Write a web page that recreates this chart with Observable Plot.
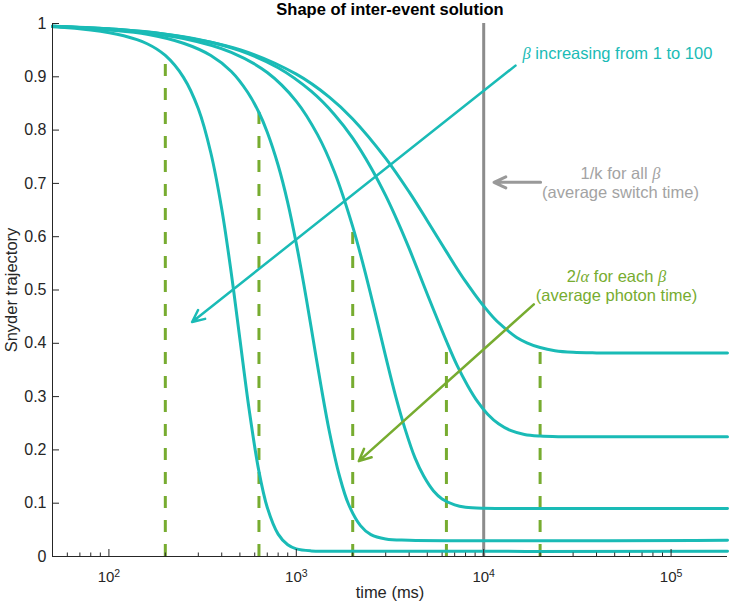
<!DOCTYPE html>
<html>
<head>
<meta charset="utf-8">
<script src="https://cdn.jsdelivr.net/npm/d3@7"></script>
<script src="https://cdn.jsdelivr.net/npm/@observablehq/plot@0.6"></script>
<style>
  html, body { margin: 0; padding: 0; background: #ffffff; }
  svg { display: block; }
</style>
</head>
<body>
<script>
// ---------- data ----------
const betaValues = [100, 31.6, 10, 3.16, 1];

const timeB100 = [50, 80, 120, 160, 200, 250, 300, 350, 400, 450, 500, 560, 630, 700, 800, 900, 1000, 1200, 1500, 200000];
const trajB100 = [0.994, 0.988, 0.977, 0.962, 0.940, 0.899, 0.840, 0.757, 0.652, 0.531, 0.408, 0.276, 0.162, 0.092, 0.042, 0.022, 0.0143, 0.0105, 0.0099, 0.0099];

const timeB31 = [50, 100, 160, 250, 350, 450, 550, 632, 700, 800, 900, 1000, 1100, 1200, 1350, 1500, 1700, 1900, 2200, 2500, 3000, 4000, 200000];
const trajB31 = [0.995, 0.988, 0.980, 0.963, 0.940, 0.910, 0.871, 0.833, 0.796, 0.734, 0.664, 0.587, 0.508, 0.430, 0.323, 0.235, 0.151, 0.098, 0.058, 0.041, 0.033, 0.0307, 0.0306];

const timeB10 = [50, 120, 250, 450, 700, 1000, 1300, 1600, 2000, 2300, 2600, 3000, 3400, 3800, 4300, 4800, 5400, 6000, 7000, 8000, 10000, 13000, 200000];
const trajB10 = [0.995, 0.987, 0.972, 0.946, 0.908, 0.854, 0.791, 0.721, 0.619, 0.541, 0.466, 0.375, 0.299, 0.240, 0.185, 0.150, 0.123, 0.108, 0.097, 0.0925, 0.0904, 0.0901, 0.0901];

const timeB3 = [50, 100, 150, 300, 500, 800, 1200, 1600, 2000, 2500, 3000, 3500, 4000, 4700, 5400, 6325, 7200, 8200, 9300, 10500, 12000, 14000, 16500, 20000, 25000, 35000, 200000];
const trajB3 = [0.995, 0.990, 0.985, 0.970, 0.949, 0.917, 0.873, 0.829, 0.785, 0.730, 0.677, 0.626, 0.578, 0.516, 0.463, 0.404, 0.359, 0.321, 0.290, 0.267, 0.249, 0.236, 0.229, 0.226, 0.2248, 0.2246, 0.2246];

const timeB1 = [50, 100, 200, 500, 1000, 1500, 2000, 3000, 4000, 5000, 6000, 7000, 8000, 9000, 10000, 11500, 13000, 15000, 17000, 20000, 24000, 30000, 40000, 200000];
const trajB1 = [0.995, 0.990, 0.980, 0.951, 0.905, 0.862, 0.821, 0.747, 0.684, 0.630, 0.585, 0.547, 0.516, 0.491, 0.470, 0.445, 0.428, 0.411, 0.401, 0.392, 0.386, 0.383, 0.382, 0.382];

// 2/alpha for each beta (average photon time) and trajectory value there
const photonTime = [200, 632, 2000, 6325, 20000];
const photonTop = [0.940, 0.833, 0.619, 0.404, 0.392];

// 1/k for all beta (average switch time)
const switchTime = [10000];

// axis ticks
const yTicks = [0, 0.1, 0.2, 0.3, 0.4, 0.5, 0.6, 0.7, 0.8, 0.9, 1];
const xMajorTicks = [100, 1000, 10000, 100000];
const xTickExponents = [2, 3, 4, 5];
const xMinorTicks = [60, 70, 80, 90, 200, 300, 400, 500, 600, 700, 800, 900,
  2000, 3000, 4000, 5000, 6000, 7000, 8000, 9000,
  20000, 30000, 40000, 50000, 60000, 70000, 80000, 90000];

// annotations (data coordinates: time in ms, trajectory value)
const betaArrowT = [14780, 278];
const betaArrowP = [0.921, 0.440];
const switchArrowT = [20120, 11350];
const switchArrowP = [0.702, 0.702];
const photonArrowT = [18510, 2156];
const photonArrowP = [0.473, 0.179];

const betaLabel = ["β increasing from 1 to 100"];
const betaLabelT = [16110], betaLabelP = [0.944];
const switchLabel = ["1/k for all β\n(average switch time)"];
const switchLabelT = [53700], switchLabelP = [0.7026];
const photonLabel = ["2/α for each β\n(average photon time)"];
const photonLabelT = [51140], photonLabelP = [0.5084];

// ---------- build tables ----------
const curveTimes = [timeB100, timeB31, timeB10, timeB3, timeB1];
const curveTrajs = [trajB100, trajB31, trajB10, trajB3, trajB1];
const curveRows = [];
betaValues.forEach((b, i) => curveTimes[i].forEach((t, j) => curveRows.push({beta: b, t, p: curveTrajs[i][j]})));
const photonRows = photonTime.map((t, i) => ({t, top: photonTop[i]}));
const arrowRow = (T, P) => [{x1: T[0], y1: P[0], x2: T[1], y2: P[1]}];

const CYAN = "#1ABBB6", GREEN = "#77AC30", GRAY_LINE = "#8C8C8C", GRAY_ARROW = "#999999", GRAY_TEXT = "#A3A3A3", AXIS = "#262626";
const FONT = "'Liberation Sans', Arial, Helvetica, sans-serif";
const PLOT_W = 731 - 52 - 4, PLOT_H = 606 - 23 - 50;

const plot = Plot.plot({
  width: 731, height: 606,
  marginTop: 23, marginRight: 4, marginBottom: 50, marginLeft: 52,
  x: {type: "log", domain: [50, 200000], axis: null},
  y: {domain: [0, 1], axis: null},
  style: {fontFamily: FONT, fontSize: "15px", color: AXIS, background: "white", overflow: "visible"},
  marks: [
    Plot.ruleX(photonRows, {x: "t", y1: () => 0, y2: "top", stroke: GREEN, strokeWidth: 3, strokeDasharray: "12,12"}),
    Plot.ruleX(switchTime, {stroke: GRAY_LINE, strokeWidth: 3}),
    Plot.line(curveRows, {x: "t", y: "p", z: "beta", stroke: CYAN, strokeWidth: 3, curve: "catmull-rom"}),
    // axes
    Plot.ruleX([50], {stroke: AXIS, strokeWidth: 1}),
    Plot.ruleY([0], {stroke: AXIS, strokeWidth: 1}),
    Plot.ruleY(yTicks, {stroke: AXIS, strokeWidth: 1, insetRight: PLOT_W - 7}),
    Plot.ruleX(xMajorTicks, {stroke: AXIS, strokeWidth: 1, insetTop: PLOT_H - 7}),
    Plot.ruleX(xMinorTicks, {stroke: AXIS, strokeWidth: 1, insetTop: PLOT_H - 3.5}),
    Plot.axisY({ticks: yTicks, tickSize: 0, tickPadding: 6, tickFormat: d => String(d), label: null, fontSize: 16}),
    Plot.text(xMajorTicks, {x: d => d, text: (d, i) => "10^" + xTickExponents[i], frameAnchor: "bottom", lineAnchor: "middle", dy: 21, fill: AXIS, fontSize: 15}),
    Plot.text(["time (ms)"], {text: d => d, frameAnchor: "bottom", lineAnchor: "middle", dy: 36, fontSize: 16.5, fill: AXIS}),
    Plot.text(["Snyder trajectory"], {text: d => d, frameAnchor: "left", textAnchor: "middle", lineAnchor: "middle", dx: -41, rotate: -90, fontSize: 16.5, fill: AXIS}),
    Plot.text(["Shape of inter-event solution"], {text: d => d, frameAnchor: "top", lineAnchor: "middle", dy: -14, fontSize: 16.5, fontWeight: "bold", fill: "#000"}),
    // annotations
    Plot.arrow(arrowRow(betaArrowT, betaArrowP), {x1: "x1", y1: "y1", x2: "x2", y2: "y2", stroke: CYAN, strokeWidth: 2.5, headLength: 8, headAngle: 50}),
    Plot.arrow(arrowRow(switchArrowT, switchArrowP), {x1: "x1", y1: "y1", x2: "x2", y2: "y2", stroke: GRAY_ARROW, strokeWidth: 3, headLength: 6.5, headAngle: 50}),
    Plot.arrow(arrowRow(photonArrowT, photonArrowP), {x1: "x1", y1: "y1", x2: "x2", y2: "y2", stroke: GREEN, strokeWidth: 2.5, headLength: 8, headAngle: 50}),
    Plot.text(betaLabel, {x: (d, i) => betaLabelT[i], y: (d, i) => betaLabelP[i], text: d => d, textAnchor: "start", fill: CYAN, fontSize: 16.5}),
    Plot.text(switchLabel, {x: (d, i) => switchLabelT[i], y: (d, i) => switchLabelP[i], text: d => d, textAnchor: "middle", lineHeight: 1.15, fill: GRAY_TEXT, fontSize: 16.5}),
    Plot.text(photonLabel, {x: (d, i) => photonLabelT[i], y: (d, i) => photonLabelP[i], text: d => d, textAnchor: "middle", lineHeight: 1.15, fill: GREEN, fontSize: 16.5})
  ]
});

// ---------- typographic post-processing ----------
const SVGNS = "http://www.w3.org/2000/svg";
// superscript exponents on x tick labels
plot.querySelectorAll("text").forEach(el => {
  const m = /^10\^(\d+)$/.exec(el.textContent);
  if (m && el.children.length === 0) {
    el.textContent = "10";
    const sup = document.createElementNS(SVGNS, "tspan");
    sup.setAttribute("dy", "-0.5em");
    sup.setAttribute("font-size", "0.7em");
    sup.textContent = m[1];
    el.appendChild(sup);
  }
});
// italic serif greek letters
const walker = document.createTreeWalker(plot, NodeFilter.SHOW_TEXT);
const greekNodes = [];
while (walker.nextNode()) if (/[αβ]/.test(walker.currentNode.nodeValue)) greekNodes.push(walker.currentNode);
for (const n of greekNodes) {
  const parent = n.parentNode;
  for (const part of n.nodeValue.split(/([αβ])/)) {
    if (!part) continue;
    if (/[αβ]/.test(part)) {
      const ts = document.createElementNS(SVGNS, "tspan");
      ts.setAttribute("font-family", "'Liberation Serif', 'DejaVu Serif', serif");
      ts.setAttribute("font-style", "italic");
      ts.textContent = part;
      parent.insertBefore(ts, n);
    } else {
      parent.insertBefore(document.createTextNode(part), n);
    }
  }
  parent.removeChild(n);
}

document.body.append(plot);
</script>
</body>
</html>
